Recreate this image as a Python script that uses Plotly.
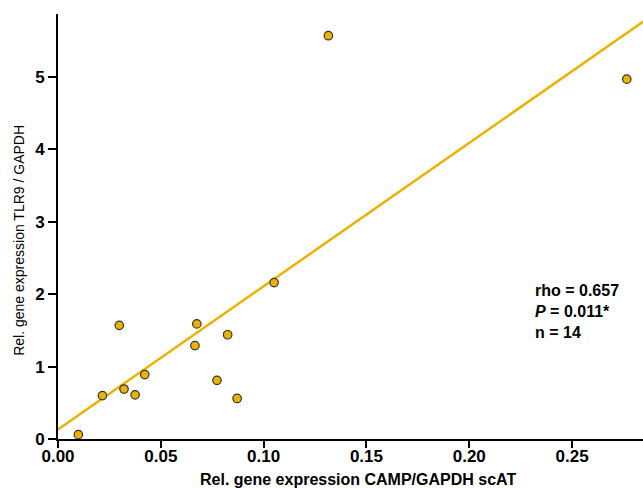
import plotly.graph_objects as go

# CAMP/GAPDH (x) and TLR9/GAPDH (y) relative expression in scAT
camp = [0.0099, 0.0216, 0.0298, 0.0321, 0.0375, 0.0422, 0.0666,
        0.0675, 0.0773, 0.0825, 0.0871, 0.1051, 0.1315, 0.2766]
tlr9 = [0.06, 0.60, 1.57, 0.69, 0.61, 0.89, 1.29,
        1.59, 0.81, 1.44, 0.56, 2.16, 5.57, 4.97]

# regression line parameters
fit_intercept = 0.13
fit_slope = 19.8
fit_x = [0.0, 0.29]
fit_y = [fit_intercept + fit_slope * v for v in fit_x]

x_ticks = [0.0, 0.05, 0.10, 0.15, 0.20, 0.25]
y_ticks = [0, 1, 2, 3, 4, 5]

x_title = "Rel. gene expression CAMP/GAPDH scAT"
y_title = "Rel. gene expression TLR9 / GAPDH"
stats_lines = ["rho = 0.657", "<i>P</i> = 0.011*", "n = 14"]

gold = "#EDB200"
font_family = "Arial, Liberation Sans, sans-serif"

fig = go.Figure()
fig.add_trace(go.Scatter(
    x=fit_x, y=fit_y, mode="lines",
    line=dict(color=gold, width=2.5),
    hoverinfo="skip", showlegend=False,
))
fig.add_trace(go.Scatter(
    x=camp, y=tlr9, mode="markers",
    marker=dict(size=8.5, color=gold, line=dict(color="#333333", width=1.2)),
    cliponaxis=False, showlegend=False,
))

# correlation statistics
fig.add_annotation(
    xref="paper", yref="paper", x=0.812, y=0.300,
    xanchor="left", yanchor="middle", align="left",
    text="<br>".join(stats_lines), showarrow=False,
    font=dict(family=font_family, size=16, color="black", weight="bold"),
)
# axis titles
fig.add_annotation(
    xref="paper", yref="paper", x=0.513, y=-0.0957,
    xanchor="center", yanchor="middle",
    text=x_title, showarrow=False,
    font=dict(family=font_family, size=16, color="black", weight="bold"),
)
fig.add_annotation(
    xref="paper", yref="paper", x=-0.0667, y=0.4686,
    xanchor="center", yanchor="middle", textangle=-90,
    text=y_title, showarrow=False,
    font=dict(family=font_family, size=14, color="black"),
)

fig.update_layout(
    width=643, height=488,
    margin=dict(l=58, r=0, t=14, b=49),
    plot_bgcolor="white", paper_bgcolor="white",
    font=dict(family=font_family, color="black"),
    xaxis=dict(
        range=[0, 0.2845], tickvals=x_ticks, tickformat=".2f",
        showline=True, linecolor="black", linewidth=2,
        ticks="outside", ticklen=7, tickwidth=2, tickcolor="black",
        ticklabelstandoff=-6,
        showgrid=False, zeroline=False, automargin=False,
        tickfont=dict(size=17, weight="bold"),
    ),
    yaxis=dict(
        range=[0, 5.87], tickvals=y_ticks,
        showline=True, linecolor="black", linewidth=2,
        ticks="outside", ticklen=8, tickwidth=2, tickcolor="black",
        showgrid=False, zeroline=False, automargin=False,
        tickfont=dict(size=17, weight="bold"),
    ),
)

fig.write_html("out.html")
